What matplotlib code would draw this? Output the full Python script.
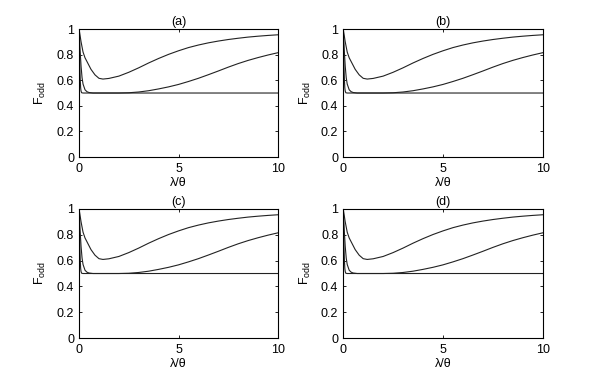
import matplotlib
matplotlib.use("Agg")
import matplotlib.pyplot as plt

# curves (same in all four panels)
x_fast = [0, 0.02, 0.04, 0.06, 0.08, 0.1, 0.13, 0.2, 10]
y_fast = [1.0, 0.85, 0.7, 0.6, 0.54, 0.515, 0.502, 0.5, 0.5]

x_mid = [0, 0.05, 0.1, 0.15, 0.2, 0.3, 0.4, 0.5, 0.7, 1, 1.5, 2, 2.5, 3, 3.5, 4,
         4.5, 5, 5.5, 6, 6.5, 7, 7.5, 8, 8.5, 9, 9.5, 10]
y_mid = [1.0, 0.84, 0.71, 0.62, 0.57, 0.525, 0.51, 0.504, 0.5, 0.5, 0.5, 0.5,
         0.502, 0.508, 0.518, 0.532, 0.548, 0.567, 0.59, 0.615, 0.643, 0.672,
         0.702, 0.73, 0.755, 0.777, 0.797, 0.815]

x_up = [0, 0.05, 0.1, 0.2, 0.3, 0.4, 0.5, 0.6, 0.8, 1.0, 1.2, 1.5, 2, 2.5, 3,
        3.5, 4, 4.5, 5, 5.5, 6, 6.5, 7, 7.5, 8, 8.5, 9, 9.5, 10]
y_up = [1.0, 0.95, 0.9, 0.82, 0.775, 0.745, 0.715, 0.685, 0.642, 0.615, 0.609,
        0.614, 0.632, 0.662, 0.697, 0.735, 0.77, 0.802, 0.83, 0.855, 0.875,
        0.892, 0.906, 0.918, 0.928, 0.937, 0.944, 0.95, 0.955]

titles = ["(a)", "(b)", "(c)", "(d)"]
yticks = [0, 0.2, 0.4, 0.6, 0.8, 1]
ytick_labels = ["0", "0.2", "0.4", "0.6", "0.8", "1"]
xticks = [0, 5, 10]

plt.rcParams['font.family'] = ['Liberation Sans', 'DejaVu Sans']
plt.rcParams['mathtext.fontset'] = 'custom'
plt.rcParams['mathtext.rm'] = 'Liberation Sans'
plt.rcParams['mathtext.it'] = 'Liberation Sans'

fs = 9

fig = plt.figure(figsize=(5.99, 3.82), dpi=100)

boxes = [
    [0.132, 0.589, 0.332, 0.335],
    [0.573, 0.589, 0.333, 0.335],
    [0.132, 0.115, 0.332, 0.338],
    [0.573, 0.115, 0.333, 0.338],
]

for box, t in zip(boxes, titles):
    ax = fig.add_axes(box)
    for xs, ys in [(x_fast, y_fast), (x_mid, y_mid), (x_up, y_up)]:
        ax.plot(xs, ys, color='#222222', lw=0.8)
    ax.set_xlim(0, 10)
    ax.set_ylim(0, 1)
    ax.set_xticks(xticks)
    ax.set_xticklabels([str(v) for v in xticks])
    ax.set_yticks(yticks)
    ax.set_yticklabels(ytick_labels)
    ax.tick_params(direction='in', length=2.5, width=0.6, top=True, right=True,
                   labelsize=fs)
    ax.tick_params(axis='x', pad=4)
    ax.tick_params(axis='y', pad=3.5)
    for s in ax.spines.values():
        s.set_linewidth(0.8)
    ax.set_title(t, fontsize=fs, pad=3)
    ax.set_xlabel('\u03bb/\u03b8', fontsize=fs, labelpad=1.5)
    ax.set_ylabel('F$_{\\mathrm{odd}}$', fontsize=fs, labelpad=6)

fig.savefig('out.png', dpi=100)
